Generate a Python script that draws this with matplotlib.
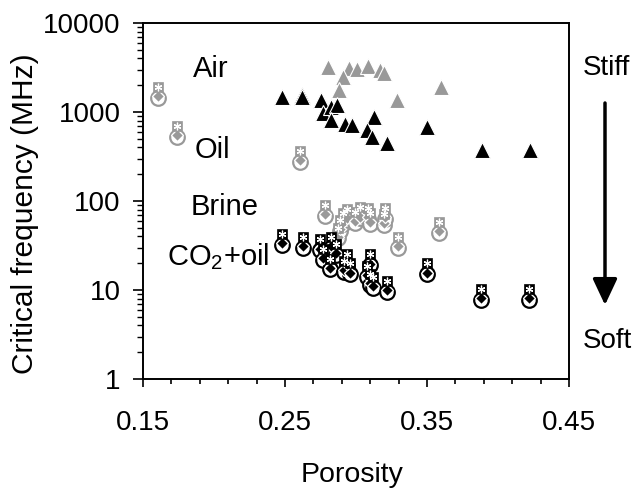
import numpy as np
import matplotlib
matplotlib.use("Agg")
import matplotlib.pyplot as plt
import matplotlib.transforms as mtransforms
from matplotlib.ticker import FixedLocator, LogLocator, NullFormatter, FixedFormatter

plt.rcParams['font.family'] = ['Liberation Sans', 'DejaVu Sans']
plt.rcParams['mathtext.fontset'] = 'custom'
plt.rcParams['mathtext.rm'] = 'Liberation Sans'
plt.rcParams['mathtext.it'] = 'Liberation Sans'

# ---------------- data ----------------
# Air, black triangles
air_black_phi = [0.2481, 0.2622, 0.2622, 0.2756, 0.277, 0.2827, 0.2869, 0.2827, 0.2926, 0.2975,
                 0.313, 0.3074, 0.3116, 0.322, 0.350, 0.3885, 0.4224]
air_black_f = [1480, 1550, 1470, 1360, 975, 1140, 1200, 810, 730, 710,
               880, 630, 530, 450, 680, 375, 375]
# Air, grey triangles
air_grey_phi = [0.280, 0.2954, 0.301, 0.3088, 0.317, 0.3194, 0.291, 0.288, 0.329, 0.3596]
air_grey_f = [3200, 3120, 3020, 3290, 2950, 2750, 2500, 1780, 1350, 1910]
# Oil, grey composite markers
oil_phi = [0.1606, 0.174, 0.2608]
oil_f = [1440, 525, 275]
# Brine, grey composite markers
brine_phi = [0.2784, 0.2876, 0.289, 0.2911, 0.294, 0.2996, 0.3031, 0.3081, 0.3102,
             0.3194, 0.3201, 0.3293, 0.3582]
brine_f = [68, 38, 46, 55, 61, 57, 64, 63, 55, 54, 63, 30, 44]
# CO2+oil, black composite markers
co2_phi = [0.2481, 0.2629, 0.2749, 0.2827, 0.277, 0.282, 0.2862, 0.2918, 0.2961, 0.294,
           0.3102, 0.3074, 0.3102, 0.3123, 0.322, 0.350, 0.3878, 0.4217]
co2_f = [32, 30, 28, 30, 22, 17, 25, 16, 15, 19, 19, 14, 11.4, 10.5, 9.5, 15, 7.7, 7.7]

xticks = [0.15, 0.25, 0.35, 0.45]
xtick_labels = ['0.15', '0.25', '0.35', '0.45']
yticks = [1, 10, 100, 1000, 10000]
ytick_labels = ['1', '10', '100', '1000', '10000']

GREY = '#999999'
BLACK = '#000000'

fig = plt.figure(figsize=(6.35, 4.93), dpi=100)
ax = fig.add_axes([143/635, 1-379/493, 426/635, 356/493])
ax.set_xscale('linear')
ax.set_yscale('log')
ax.set_xlim(0.15, 0.45)
ax.set_ylim(1, 10000)

def offset(dy_pt):
    return ax.transData + mtransforms.ScaledTranslation(0, dy_pt/72, fig.dpi_scale_trans)

def composite(phi, f, color):
    ax.plot(phi, f, linestyle='none', marker='o', ms=10.5, mfc='white', mec=color, mew=1.6,
            zorder=3)
    ax.plot(phi, f, linestyle='none', marker='D', ms=6.5, mfc=color, mec='white', mew=0.9,
            transform=offset(1.2), zorder=4)
    ax.plot(phi, f, linestyle='none', marker='s', ms=7.5, mfc=color, mec=color, mew=0.5,
            transform=offset(7.8), zorder=5)
    ax.plot(phi, f, linestyle='none', marker=(6, 2, 0), ms=5.5, mec='white', mew=0.9,
            transform=offset(7.8), zorder=6)

composite(brine_phi, brine_f, GREY)
composite(oil_phi, oil_f, GREY)
composite(co2_phi, co2_f, BLACK)

ax.plot(air_grey_phi, air_grey_f, linestyle='none', marker='^', ms=11.5, mfc=GREY,
        mec='white', mew=0.8, zorder=3)
ax.plot(air_black_phi, air_black_f, linestyle='none', marker='^', ms=11.5, mfc=BLACK,
        mec='white', mew=0.8, zorder=3)

# ticks
ax.xaxis.set_major_locator(FixedLocator(xticks))
ax.xaxis.set_major_formatter(FixedFormatter(xtick_labels))
ax.xaxis.set_minor_locator(FixedLocator(np.arange(0.17, 0.45, 0.02)))
ax.yaxis.set_major_locator(FixedLocator(yticks))
ax.yaxis.set_major_formatter(FixedFormatter(ytick_labels))
ax.yaxis.set_minor_locator(LogLocator(base=10, subs=np.arange(2, 10)))
ax.yaxis.set_minor_formatter(NullFormatter())

ax.tick_params(axis='x', which='major', direction='out', length=6, width=1.2, pad=16,
               labelsize=20, bottom=True, top=False)
ax.tick_params(axis='x', which='minor', direction='out', length=3.8, width=1.2,
               bottom=True, top=False)
ax.tick_params(axis='y', which='major', direction='out', length=7, width=1.2, pad=9,
               labelsize=20, left=True, right=False)
ax.tick_params(axis='y', which='minor', direction='out', length=4, width=1.0,
               left=True, right=False)
for s in ax.spines.values():
    s.set_linewidth(1.4)

ax.set_xlabel('Porosity', fontsize=20.5, va='center')
ax.xaxis.set_label_coords(0.4906, -0.270)
ax.set_ylabel('Critical frequency (MHz)', fontsize=21.5, va='center')
ax.yaxis.set_label_coords(-0.277, 0.4635)

# fluid labels
ax.text(0.1853, 2473, 'Air', fontsize=21, ha='left', va='baseline')
ax.text(0.1867, 304, 'Oil', fontsize=21, ha='left', va='baseline')
ax.text(0.1832, 69.6, 'Brine', fontsize=21, ha='left', va='baseline')
ax.text(0.167, 19.1, r'CO$_2$+oil', fontsize=21, ha='left', va='baseline')

# stiff / soft
fig.text(606/635, 1-68/493, 'Stiff', fontsize=20, ha='center', va='center')
fig.text(607/635, 1-341/493, 'Soft', fontsize=20, ha='center', va='center')
ax.annotate('', xy=(605/635, 1-305/493), xytext=(605/635, 1-103/493),
            xycoords='figure fraction', textcoords='figure fraction',
            arrowprops=dict(arrowstyle='-|>,head_length=1.6,head_width=0.75',
                            lw=2.5, color='black', shrinkA=0, shrinkB=0),
            annotation_clip=False)

fig.savefig('out.png', dpi=100)
